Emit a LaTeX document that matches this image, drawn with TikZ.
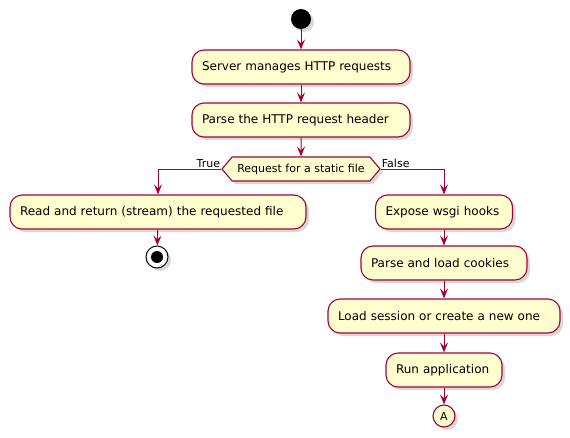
\documentclass[tikz,border=0pt]{standalone}
\usepackage{xcolor}
\usepackage{fontspec}
\setmainfont{DejaVu Sans}
\usepackage{tikz}
\usetikzlibrary{shapes.symbols,shadows,arrows.meta}
\definecolor{actfill}{HTML}{FEFECE}
\definecolor{actline}{HTML}{A80036}

\begin{document}
\begin{tikzpicture}[x=1pt,y=-1pt]
        \tikzstyle{every node}+=[font=\fontsize{12}{14}\selectfont]
        \tikzstyle{shade}=[drop shadow={shadow xshift=3pt,shadow yshift=-3pt,opacity=0.3}]
        \tikzstyle{act}=[draw=actline,fill=actfill,line width=1.1pt,rounded corners=12pt,minimum height=34pt,inner xsep=10pt,inner ysep=0pt,align=left,shade]
        \tikzstyle{flow}=[draw=actline,line width=1pt,-{Stealth[length=10pt,width=8pt,inset=4pt]}]
        \tikzstyle{small}=[font=\fontsize{11}{13}\selectfont]
        \useasboundingbox (0,0) rectangle (570,437);
        % start
        \node [circle,fill=black,minimum size=20pt,inner sep=0pt,shade] (q0) at (301,19) {};
        \node [act,text width=198pt] (a1) at (301,67) {Server manages HTTP requests};
        \node [act,text width=198pt] (a2) at (301,120) {Parse the HTTP request header};
        % decision
        \node [signal,signal to=east and west,signal pointer angle=100,draw=actline,fill=actfill,line width=1.1pt,
               minimum width=158pt,minimum height=24pt,inner sep=1pt,small,shade] (d1) at (301,169) {Request for a static file};
        % left branch
        \node [act,text width=276pt] (b1) at (158,212) {Read and return (stream) the requested file};
        \node [circle,draw=black,fill=white,line width=1pt,minimum size=22pt,inner sep=0pt,shade,
               path picture={\fill [black] (path picture bounding box.center) circle (6pt);}] (b2) at (157,257) {};
        % right branch
        \node [act,text width=117pt] (c1) at (444,212) {Expose wsgi hooks};
        \node [act,text width=146pt] (c2) at (444,263) {Parse and load cookies};
        \node [act,text width=212pt] (c3) at (444,316) {Load session or create a new one};
        \node [act,text width=96pt] (c4) at (444,370) {Run application};
        \node [circle,draw=actline,fill=actfill,line width=1.1pt,minimum size=22pt,inner sep=0pt,small,shade] (c5) at (444,416) {A};
        % arrows
        \draw [flow] (q0) -- (a1);
        \draw [flow] (a1) -- (a2);
        \draw [flow] (a2) -- (d1);
        \draw [flow] (d1.west) -| (b1.north);
        \node [small,anchor=south east,inner sep=1pt] (t1) at (d1.west) {True};
        \draw [flow] (b1) -- (b2);
        \draw [flow] (d1.east) -| (c1.north);
        \node [small,anchor=south west,inner sep=1pt] (f1) at (d1.east) {False};
        \draw [flow] (c1) -- (c2);
        \draw [flow] (c2) -- (c3);
        \draw [flow] (c3) -- (c4);
        \draw [flow] (c4) -- (c5);
\end{tikzpicture}
\end{document}
